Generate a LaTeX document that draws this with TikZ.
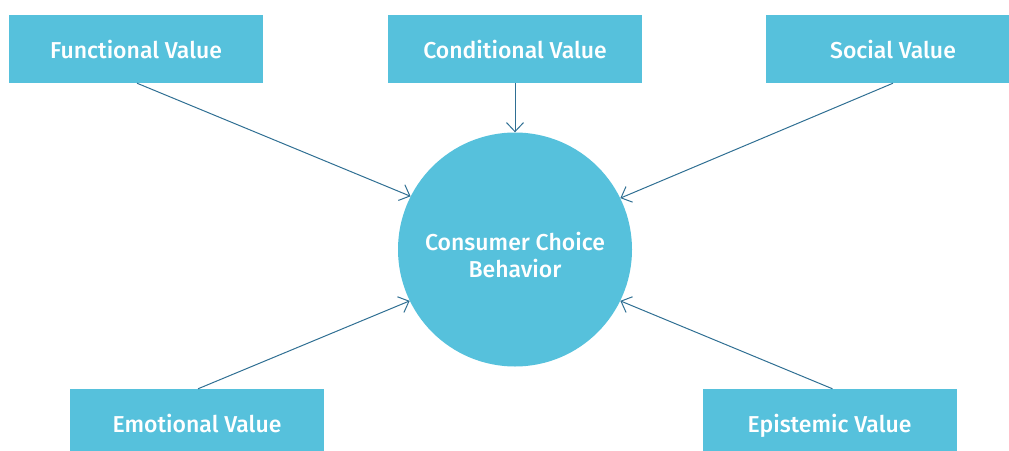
\documentclass[tikz,border=0pt]{standalone}
\usepackage{fontspec}
\setmainfont{Fira Sans}[UprightFont=* Medium]
\usetikzlibrary{arrows.meta}
\definecolor{boxblue}{HTML}{56C1DC}
\definecolor{linkblue}{HTML}{2F6F93}
\begin{document}
\begin{tikzpicture}[x=1pt,y=-1pt,
  valuebox/.style={fill=boxblue, draw=none, minimum width=254pt, minimum height=68pt,
    text=white, font=\fontsize{23}{27}\selectfont, inner sep=0pt,
    text height=23pt, text depth=4pt},
  hub/.style={circle, fill=boxblue, draw=none, minimum size=234pt, inner sep=0pt},
  hubtext/.style={text=white, font=\fontsize{23}{27}\selectfont, align=center, inner sep=0pt},
  link/.style={draw=linkblue, line width=1pt,
    -{Straight Barb[length=9pt,width=17pt,line width=1pt]}}]
\useasboundingbox (0,0) rectangle (1009,450);
\clip (0,0) rectangle (1009,450);
\node[hub] (c) at (515,249.5) {};
\node[hubtext] (ctext) at ([yshift=-6pt]c.center) {Consumer Choice\\Behavior};
\node[valuebox] (fun) at (136,49) {Functional Value};
\node[valuebox] (cond) at (515,49) {Conditional Value};
\node[valuebox] (soc) at (893,49) {Social Value};
\node[valuebox] (emo) at (197,423) {Emotional Value};
\node[valuebox] (epi) at (829.5,423) {Epistemic Value};
\draw[link] ([xshift=1pt]fun.south) -- (c.153.5);
\draw[link] (cond.south) -- (c.north);
\draw[link] (soc.south) -- (c.26.5);
\draw[link] ([xshift=1pt]emo.north) -- (c.206);
\draw[link] ([xshift=3pt]epi.north) -- (c.-26);
\end{tikzpicture}
\end{document}
